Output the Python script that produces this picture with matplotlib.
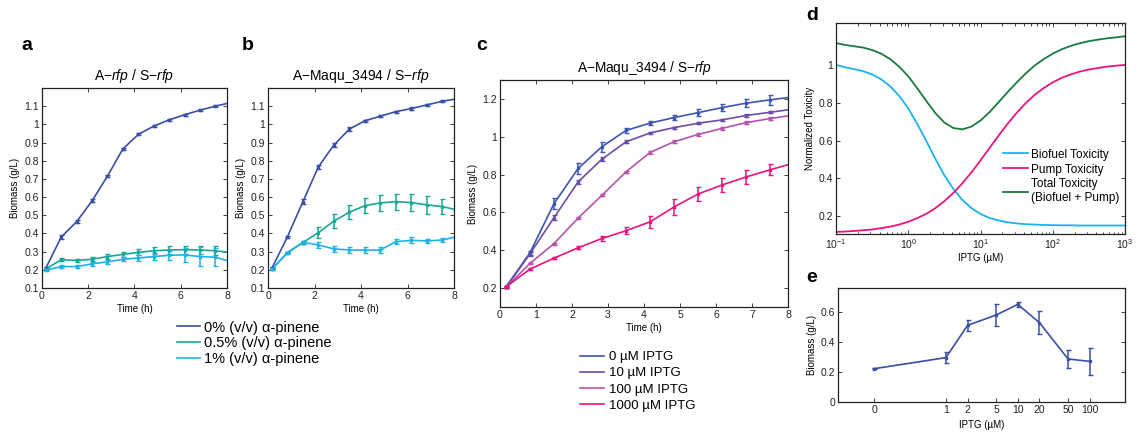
import matplotlib
matplotlib.use('Agg')
import matplotlib.pyplot as plt
from matplotlib.ticker import FuncFormatter, NullLocator, LogLocator

plt.rcParams['font.family'] = ['Liberation Sans', 'DejaVu Sans']
plt.rcParams['mathtext.fontset'] = 'custom'
plt.rcParams['mathtext.rm'] = 'Liberation Sans'
plt.rcParams['mathtext.it'] = 'Liberation Sans:italic'
plt.rcParams['mathtext.default'] = 'regular'

# sampling times (h); the fitted curves run on to 8 h
time_pts = [0.17, 0.83, 1.5, 2.17, 2.83, 3.5, 4.17, 4.83, 5.5, 6.17, 6.83, 7.5]
time_line = time_pts + [8.0]

# panel a: A-rfp / S-rfp
a_0 = [0.21, 0.38, 0.465, 0.58, 0.715, 0.865, 0.945, 0.99, 1.025, 1.053, 1.078, 1.10, 1.115]
a_0_err = [0.004, 0.01, 0.01, 0.008, 0.006, 0.005, 0.005, 0.005, 0.005, 0.005, 0.005, 0.006]
a_05 = [0.205, 0.255, 0.252, 0.258, 0.273, 0.285, 0.296, 0.305, 0.309, 0.311, 0.309, 0.305, 0.297]
a_05_err = [0.004, 0.008, 0.008, 0.012, 0.013, 0.015, 0.017, 0.02, 0.022, 0.022, 0.024, 0.026]
a_1 = [0.198, 0.218, 0.218, 0.233, 0.244, 0.258, 0.265, 0.273, 0.28, 0.282, 0.273, 0.269, 0.251]
a_1_err = [0.004, 0.006, 0.008, 0.01, 0.01, 0.012, 0.015, 0.02, 0.025, 0.04, 0.05, 0.05]

# panel b: A-Maqu_3494 / S-rfp
b_0 = [0.21, 0.38, 0.575, 0.767, 0.886, 0.974, 1.02, 1.045, 1.07, 1.087, 1.107, 1.127, 1.138]
b_0_err = [0.004, 0.006, 0.012, 0.01, 0.01, 0.01, 0.006, 0.006, 0.006, 0.006, 0.006, 0.006]
b_05 = [0.204, 0.295, 0.35, 0.405, 0.468, 0.517, 0.553, 0.568, 0.575, 0.57, 0.557, 0.548, 0.533]
b_05_err = [0.004, 0.005, 0.01, 0.03, 0.037, 0.04, 0.042, 0.044, 0.044, 0.045, 0.048, 0.042]
b_1 = [0.204, 0.292, 0.351, 0.337, 0.315, 0.309, 0.309, 0.309, 0.355, 0.362, 0.359, 0.364, 0.379]
b_1_err = [0.004, 0.004, 0.01, 0.015, 0.015, 0.015, 0.016, 0.016, 0.015, 0.017, 0.012, 0.012]

# panel c: IPTG induction
c_0 = [0.207, 0.386, 0.646, 0.832, 0.947, 1.033, 1.072, 1.101, 1.127, 1.154, 1.177, 1.195, 1.207]
c_0_err = [0.005, 0.01, 0.028, 0.027, 0.026, 0.013, 0.01, 0.012, 0.017, 0.02, 0.022, 0.026]
c_10 = [0.204, 0.38, 0.572, 0.761, 0.881, 0.973, 1.02, 1.048, 1.071, 1.089, 1.112, 1.129, 1.142]
c_10_err = [0.004, 0.008, 0.012, 0.012, 0.01, 0.008, 0.006, 0.006, 0.006, 0.006, 0.006, 0.006]
c_100 = [0.204, 0.33, 0.435, 0.57, 0.69, 0.814, 0.917, 0.973, 1.012, 1.044, 1.074, 1.096, 1.11]
c_100_err = [0.004, 0.005, 0.005, 0.006, 0.006, 0.006, 0.006, 0.008, 0.008, 0.008, 0.008, 0.008]
c_1000 = [0.206, 0.3, 0.358, 0.413, 0.462, 0.503, 0.55, 0.628, 0.697, 0.745, 0.787, 0.825, 0.852]
c_1000_err = [0.004, 0.005, 0.005, 0.008, 0.012, 0.018, 0.032, 0.042, 0.035, 0.035, 0.035, 0.03]

# panel d: toxicity model vs IPTG (uM), read every eighth of a decade
iptg_d = [0.1, 0.133, 0.178, 0.237, 0.316, 0.422, 0.562, 0.75,
          1.0, 1.33, 1.78, 2.37, 3.16, 4.22, 5.62, 7.5,
          10.0, 13.3, 17.8, 23.7, 31.6, 42.2, 56.2, 75.0,
          100.0, 133.0, 178.0, 237.0, 316.0, 422.0, 562.0, 750.0, 1000.0]
biofuel_tox = [1.0, 0.988, 0.978, 0.967, 0.950, 0.924, 0.887, 0.836,
               0.770, 0.688, 0.597, 0.503, 0.416, 0.343, 0.285, 0.242,
               0.211, 0.190, 0.177, 0.167, 0.161, 0.157, 0.155, 0.153,
               0.152, 0.151, 0.151, 0.150, 0.150, 0.150, 0.150, 0.150, 0.150]
pump_tox = [0.116, 0.118, 0.121, 0.125, 0.129, 0.136, 0.144, 0.155,
            0.170, 0.189, 0.212, 0.242, 0.279, 0.323, 0.374, 0.432,
            0.495, 0.560, 0.626, 0.689, 0.746, 0.798, 0.842, 0.878,
            0.908, 0.932, 0.950, 0.965, 0.976, 0.984, 0.991, 0.996, 1.0]
total_tox = [1.116, 1.106, 1.099, 1.092, 1.079, 1.060, 1.031, 0.991,
             0.940, 0.877, 0.809, 0.745, 0.695, 0.666, 0.659, 0.674,
             0.706, 0.750, 0.803, 0.856, 0.907, 0.955, 0.997, 1.031,
             1.060, 1.083, 1.101, 1.115, 1.126, 1.134, 1.141, 1.146, 1.152]

# panel e: biomass vs IPTG
iptg_e = [0, 1, 2, 5, 10, 20, 50, 100]
biomass_e = [0.222, 0.296, 0.511, 0.58, 0.651, 0.529, 0.287, 0.271]
biomass_e_err = [0.003, 0.037, 0.038, 0.075, 0.018, 0.078, 0.057, 0.091]

col_a = ['#3a4fa6', '#14a897', '#1cb3e8']
col_c = ['#3b55b0', '#6a4ea6', '#b355aa', '#e8157f']
col_d = ['#1cb3ec', '#e8157f', '#1a7a40']
pinene_labels = ['0% (v/v) α-pinene', '0.5% (v/v) α-pinene', '1% (v/v) α-pinene']
iptg_labels = ['0 µM IPTG', '10 µM IPTG', '100 µM IPTG', '1000 µM IPTG']
tox_labels = ['Biofuel Toxicity', 'Pump Toxicity', 'Total Toxicity\n(Biofuel + Pump)']

fmt_g = FuncFormatter(lambda v, p: '%g' % round(v, 3))


def style(ax):
    ax.tick_params(direction='in', top=True, right=True, length=3, width=0.6,
                   labelsize=7.5, pad=2, colors='#222222')
    for s in ax.spines.values():
        s.set_linewidth(0.9)
        s.set_color('#222222')


def growth(ax, series, errs, colors, labels):
    handles = []
    for y, e, c, lab in zip(series, errs, colors, labels):
        h, = ax.plot(time_line, y, color=c, lw=1.2, label=lab)
        ax.errorbar(time_pts, y[:-1], yerr=e, fmt='s', ms=2, color=c,
                    elinewidth=1.1, capsize=1.8, capthick=1.0)
        handles.append(h)
    ax.set_xlim(0, 8)
    style(ax)
    return handles


fig = plt.figure(figsize=(11.41, 4.32), dpi=100)

ax_a = fig.add_axes([0.0368, 0.3333, 0.1621, 0.463])
ax_b = fig.add_axes([0.2349, 0.3333, 0.163, 0.463])
ax_c = fig.add_axes([0.4382, 0.2894, 0.2524, 0.5255])
ax_d = fig.add_axes([0.7327, 0.4583, 0.2533, 0.4884])
ax_e = fig.add_axes([0.7345, 0.0694, 0.2515, 0.2639])

h_ab = growth(ax_a, [a_0, a_05, a_1], [a_0_err, a_05_err, a_1_err], col_a, pinene_labels)
growth(ax_b, [b_0, b_05, b_1], [b_0_err, b_05_err, b_1_err], col_a, pinene_labels)
for ax, t in [(ax_a, 'A−$\\mathit{rfp}$ / S−$\\mathit{rfp}$'),
              (ax_b, 'A−Maqu_3494 / S−$\\mathit{rfp}$')]:
    ax.set_ylim(0.1, 1.2)
    ax.set_yticks([0.1, 0.2, 0.3, 0.4, 0.5, 0.6, 0.7, 0.8, 0.9, 1.0, 1.1])
    ax.set_xticks([0, 2, 4, 6, 8])
    ax.yaxis.set_major_formatter(fmt_g)
    ax.set_title(t, fontsize=10, pad=6)
    ax.set_xlabel('Time (h)', fontsize=7, labelpad=2)
    ax.set_ylabel('Biomass (g/L)', fontsize=7, labelpad=3)

h_c = growth(ax_c, [c_0, c_10, c_100, c_1000],
             [c_0_err, c_10_err, c_100_err, c_1000_err], col_c, iptg_labels)
ax_c.set_ylim(0.1, 1.3)
ax_c.set_yticks([0.2, 0.4, 0.6, 0.8, 1.0, 1.2])
ax_c.set_xticks(range(9))
ax_c.yaxis.set_major_formatter(fmt_g)
ax_c.set_title('A−Maqu_3494 / S−$\\mathit{rfp}$', fontsize=9.8, pad=6)
ax_c.set_xlabel('Time (h)', fontsize=7, labelpad=2)
ax_c.set_ylabel('Biomass (g/L)', fontsize=7, labelpad=3)

# panel d
for y, c, lab in zip([biofuel_tox, pump_tox, total_tox], col_d, tox_labels):
    ax_d.plot(iptg_d, y, color=c, lw=1.3, label=lab)
ax_d.set_xscale('log')
ax_d.set_xlim(0.1, 1000)
ax_d.set_ylim(0.105, 1.222)
ax_d.set_yticks([0.2, 0.4, 0.6, 0.8, 1.0])
ax_d.yaxis.set_major_formatter(fmt_g)
ax_d.xaxis.set_minor_locator(LogLocator(subs=range(2, 10)))
style(ax_d)
ax_d.tick_params(which='minor', direction='in', top=True, length=1.8, width=0.5)
ax_d.set_xlabel('IPTG (µM)', fontsize=7, labelpad=2)
ax_d.set_ylabel('Normalized Toxicity', fontsize=7, labelpad=3)
ax_d.legend(loc='upper left', bbox_to_anchor=(0.578, 0.405), frameon=False, fontsize=8.5,
            handlelength=2.1, handletextpad=0.25, labelspacing=0.25, borderpad=0,
            borderaxespad=0)

# panel e
ax_e.errorbar(iptg_e, biomass_e, yerr=biomass_e_err, color='#3a4fa6', lw=1.2,
              marker='s', ms=2, elinewidth=1.1, capsize=1.8, capthick=1.0)
ax_e.set_xscale('symlog', linthresh=1, linscale=0.9)
ax_e.set_xlim(-0.5, 310)
ax_e.set_xticks(iptg_e)
ax_e.set_xticklabels([str(v) for v in iptg_e])
ax_e.xaxis.set_minor_locator(NullLocator())
ax_e.set_ylim(0, 0.76)
ax_e.set_yticks([0, 0.2, 0.4, 0.6])
ax_e.yaxis.set_major_formatter(fmt_g)
style(ax_e)
ax_e.tick_params(top=False)
ax_e.set_xlabel('IPTG (µM)', fontsize=7, labelpad=4)
ax_e.set_ylabel('Biomass (g/L)', fontsize=7, labelpad=3)

# legends below a/b and c
fig.legend(handles=h_ab, loc='upper left', bbox_to_anchor=(0.155, 0.258), frameon=False,
           fontsize=10.5, handlelength=1.6, handletextpad=0.25, labelspacing=0.12, borderpad=0,
           borderaxespad=0)
fig.legend(handles=h_c, loc='upper left', bbox_to_anchor=(0.508, 0.1875), frameon=False,
           fontsize=9.5, handlelength=1.85, handletextpad=0.35, labelspacing=0.3, borderpad=0,
           borderaxespad=0)

# panel letters
for lab, x, y in [('a', 27, 46), ('b', 248, 46), ('c', 482, 46), ('d', 812, 15), ('e', 812, 277)]:
    fig.text(x / 1141, 1 - y / 432, lab, fontsize=14, fontweight='bold', ha='center', va='center')

fig.savefig('out.png', dpi=100)
